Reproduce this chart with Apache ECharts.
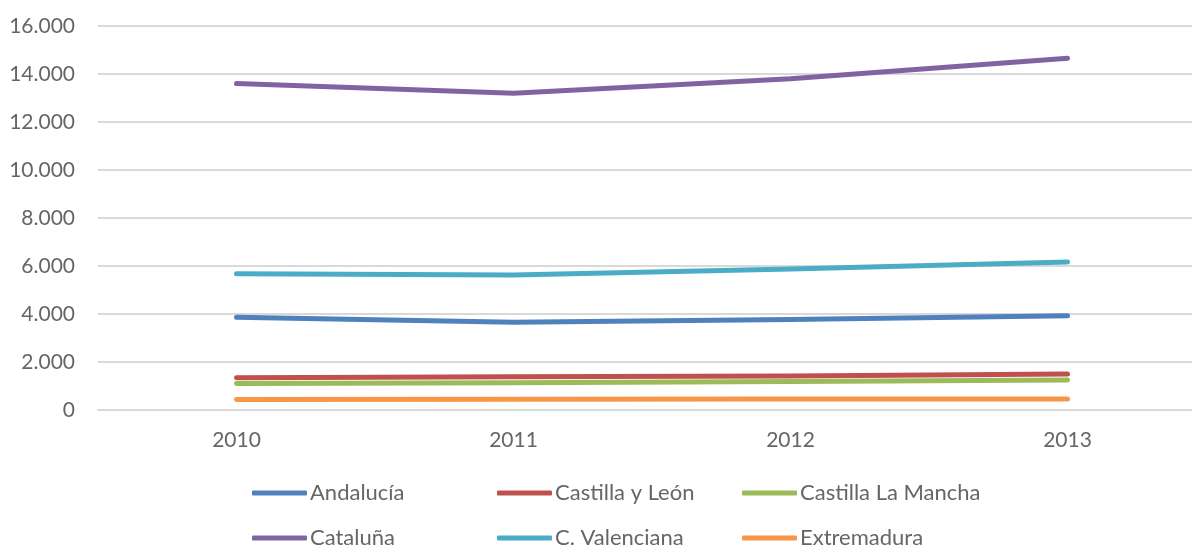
<!DOCTYPE html>
<html>
<head>
<meta charset="utf-8">
<script src="https://cdn.jsdelivr.net/npm/echarts@6/dist/echarts.min.js"></script>
<style>
  html, body { margin: 0; padding: 0; background: #fff; }
  #chart { width: 1192px; height: 550px; }
</style>
</head>
<body>
<div id="chart"></div>
<script>
// Years on the category axis
const years = ['2010', '2011', '2012', '2013'];

// Values per region
const andalucia = [3860, 3660, 3770, 3930];
const castillaLeon = [1340, 1390, 1420, 1500];
const castillaMancha = [1100, 1140, 1190, 1250];
const cataluna = [13600, 13200, 13800, 14660];
const valenciana = [5680, 5620, 5880, 6170];
const extremadura = [440, 450, 460, 460];

const seriesNames = ['Andalucía', 'Castilla y León', 'Castilla La Mancha', 'Cataluña', 'C. Valenciana', 'Extremadura'];
const seriesData = [andalucia, castillaLeon, castillaMancha, cataluna, valenciana, extremadura];
const colors = ['#4F81BD', '#C0504D', '#9BBB59', '#8064A2', '#4BACC6', '#F79646'];

const textColor = '#666666';
const font = 'Lato, "Open Sans", sans-serif';

const chart = echarts.init(document.getElementById('chart'));

// Thousands separator with a dot
const fmt = v => v === 0 ? '0' : String(v).replace(/\B(?=(\d{3})+(?!\d))/g, '.');

// Legend laid out as a 3-column, 2-row table: one legend block per entry
const legendColLeft = [252, 497, 742];
const legendRowTop = [482, 527];
const legends = seriesNames.map((name, i) => ({
  orient: 'horizontal',
  left: legendColLeft[i % 3],
  top: legendRowTop[Math.floor(i / 3)],
  itemWidth: 55,
  itemHeight: 5,
  icon: 'roundRect',
  padding: 0,
  selectedMode: false,
  data: [name],
  textStyle: { color: textColor, fontSize: 22, fontFamily: font, padding: [0, 0, 0, -2] }
}));

chart.setOption({
  animation: false,
  color: colors,
  legend: legends,
  // the plot area runs slightly past the right edge of the canvas
  grid: { left: 98, top: 26, right: -14, height: 384, containLabel: false, outerBoundsMode: 'none' },
  xAxis: {
    type: 'category',
    data: years,
    boundaryGap: true,
    axisLine: { show: true, lineStyle: { color: '#D9D9D9', width: 2 } },
    axisTick: { show: false },
    axisLabel: { color: textColor, fontSize: 21, fontFamily: font, margin: 20 }
  },
  yAxis: {
    type: 'value',
    min: 0,
    max: 16000,
    interval: 2000,
    axisLine: { show: false },
    axisTick: { show: false },
    splitLine: { lineStyle: { color: '#D9D9D9', width: 2 } },
    axisLabel: { color: textColor, fontSize: 21, fontFamily: font, margin: 23, formatter: fmt }
  },
  series: seriesNames.map((name, i) => ({
    name: name,
    type: 'line',
    data: seriesData[i],
    symbol: 'none',
    lineStyle: { width: 5, cap: 'round', join: 'round' },
    itemStyle: { color: colors[i] }
  }))
});
</script>
</body>
</html>
